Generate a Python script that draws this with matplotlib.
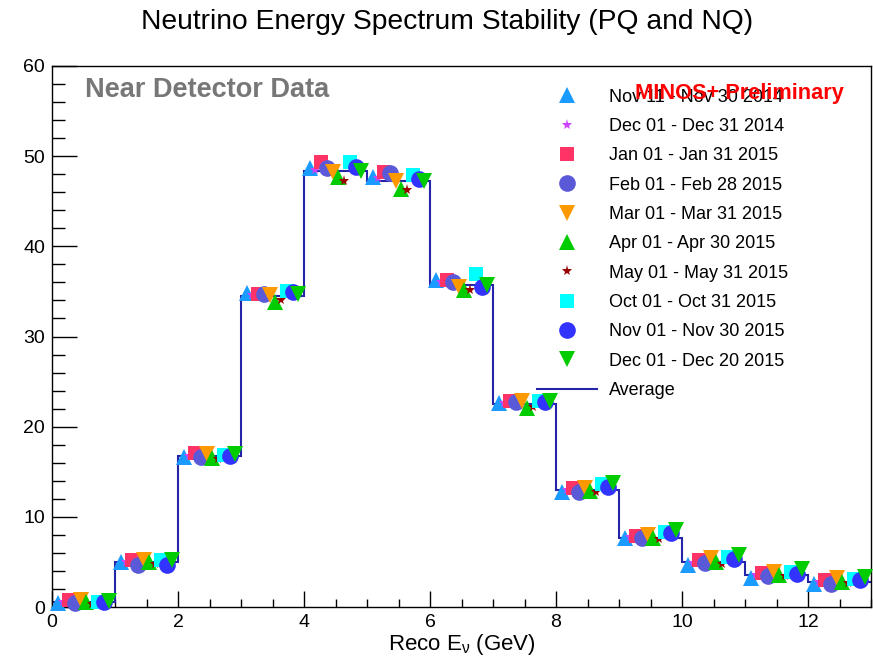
import matplotlib
matplotlib.use('Agg')
import matplotlib.pyplot as plt
import numpy as np
from matplotlib.ticker import MultipleLocator

plt.rcParams.update({
    'font.family': ['Liberation Sans', 'DejaVu Sans'],
    'mathtext.fontset': 'custom',
    'mathtext.rm': 'Liberation Sans',
    'mathtext.it': 'Liberation Sans:italic',
})

# Reco energy bins (GeV)
edges = np.arange(0, 14, 1)

labels = [
    'Nov 11 - Nov 30 2014', 'Dec 01 - Dec 31 2014', 'Jan 01 - Jan 31 2015',
    'Feb 01 - Feb 28 2015', 'Mar 01 - Mar 31 2015', 'Apr 01 - Apr 30 2015',
    'May 01 - May 31 2015', 'Oct 01 - Oct 31 2015', 'Nov 01 - Nov 30 2015',
    'Dec 01 - Dec 20 2015',
]

nov14 = [0.40, 4.95, 16.6, 34.8, 48.65, 47.7, 36.3, 22.6, 12.8, 7.7, 4.65, 3.2, 2.55]
dec14 = [0.55, 5.00, 16.8, 34.6, 48.5, 47.6, 36.0, 22.6, 13.0, 7.8, 4.9, 3.5, 2.8]
jan15 = [0.80, 5.20, 17.1, 34.7, 49.3, 48.2, 36.3, 22.8, 13.2, 7.85, 5.2, 3.8, 3.0]
feb15 = [0.40, 4.70, 16.6, 34.7, 48.65, 48.1, 36.0, 22.7, 12.8, 7.6, 4.85, 3.45, 2.6]
mar15 = [0.80, 5.20, 17.0, 34.6, 48.2, 47.2, 35.5, 22.8, 13.2, 8.0, 5.4, 3.9, 3.2]
apr15 = [0.50, 5.00, 16.5, 33.8, 47.7, 46.4, 35.2, 22.1, 12.9, 7.6, 5.0, 3.55, 2.8]
may15 = [0.30, 4.80, 16.4, 34.0, 47.3, 46.3, 35.2, 22.2, 12.7, 7.5, 4.8, 3.4, 2.7]
oct15 = [0.60, 5.20, 16.9, 35.0, 49.4, 47.9, 36.9, 22.85, 13.6, 8.35, 5.5, 3.9, 3.1]
nov15 = [0.50, 4.70, 16.7, 34.9, 48.8, 47.5, 35.5, 22.7, 13.3, 8.2, 5.3, 3.65, 3.0]
dec15 = [0.67, 5.20, 17.0, 34.7, 48.4, 47.2, 35.7, 22.85, 13.8, 8.5, 5.75, 4.2, 3.3]
average = [0.55, 4.95, 16.8, 34.5, 48.3, 47.2, 35.7, 22.5, 13.0, 7.7, 4.95, 3.55, 2.8]

series = [nov14, dec14, jan15, feb15, mar15, apr15, may15, oct15, nov15, dec15]
markers = ['^', '*', 's', 'o', 'v', '^', '*', 's', 'o', 'v']
colors = ['#1a9bff', '#cc44ff', '#ff3366', '#5a5ad8', '#ff9900',
          '#00cc00', '#990000', '#00ffff', '#3333ff', '#00cc00']
sizes = [12, 8, 10.5, 12, 12, 12, 8, 10.5, 12, 12]

fig = plt.figure(figsize=(8.73, 6.56), dpi=100)
ax = fig.add_axes([52 / 873, 1 - 607 / 656, 819 / 873, 541 / 656])

handles = []
lo = edges[:-1]
for i, (vals, m, c, s) in enumerate(zip(series, markers, colors, sizes)):
    # each period sits at its own offset inside the 1 GeV bin
    x = lo + (i + 1) / 11
    h, = ax.plot(x, vals, linestyle='none', marker=m, color=c, markersize=s,
                 markeredgewidth=0, label=labels[i], clip_on=False, zorder=3 + i)
    handles.append(h)

avg_h = ax.stairs(average, edges, color='#2424a8', linewidth=1.5, label='Average',
                  baseline=None, zorder=2)
handles.append(avg_h)

ax.set_xlim(0, 13)
ax.set_ylim(0, 60)
ax.xaxis.set_major_locator(MultipleLocator(2))
ax.xaxis.set_minor_locator(MultipleLocator(0.5))
ax.yaxis.set_major_locator(MultipleLocator(10))
ax.yaxis.set_minor_locator(MultipleLocator(2))
ax.tick_params(axis='both', which='both', direction='in', top=False, right=False,
               labelsize=14, width=1)
ax.tick_params(axis='y', which='major', length=18, pad=5)
ax.tick_params(axis='y', which='minor', length=9.4)
ax.tick_params(axis='x', which='major', length=11.5, pad=5)
ax.tick_params(axis='x', which='minor', length=5.8)
for sp in ax.spines.values():
    sp.set_linewidth(1)

ax.set_xlabel(r'Reco E$_{\mathrm{\nu}}$ (GeV)', fontsize=16)
ax.xaxis.set_label_coords(0.5, -0.047)

fig.text(447 / 873, 1 - 22 / 656, 'Neutrino Energy Spectrum Stability (PQ and NQ)',
         ha='center', va='center', fontsize=20.3)
fig.text(85 / 873, 1 - 90 / 656, 'Near Detector Data', ha='left', va='center',
         fontsize=19.5, fontweight='bold', color='#777777')

leg = ax.legend(handles=handles, loc='upper left',
                bbox_to_anchor=(537 / 873, 1 - 88.5 / 656),
                bbox_transform=fig.transFigure, frameon=False, fontsize=13,
                borderpad=0, borderaxespad=0, handlelength=3.32,
                handletextpad=0.66, labelspacing=0.685, numpoints=1)
leg.set_zorder(20)

fig.text(635 / 873, 1 - 93 / 656, 'MINOS+ Preliminary', ha='left', va='center',
         fontsize=15.7, fontweight='bold', color='#ff0000', zorder=30)

fig.savefig('out.png', dpi=100)
